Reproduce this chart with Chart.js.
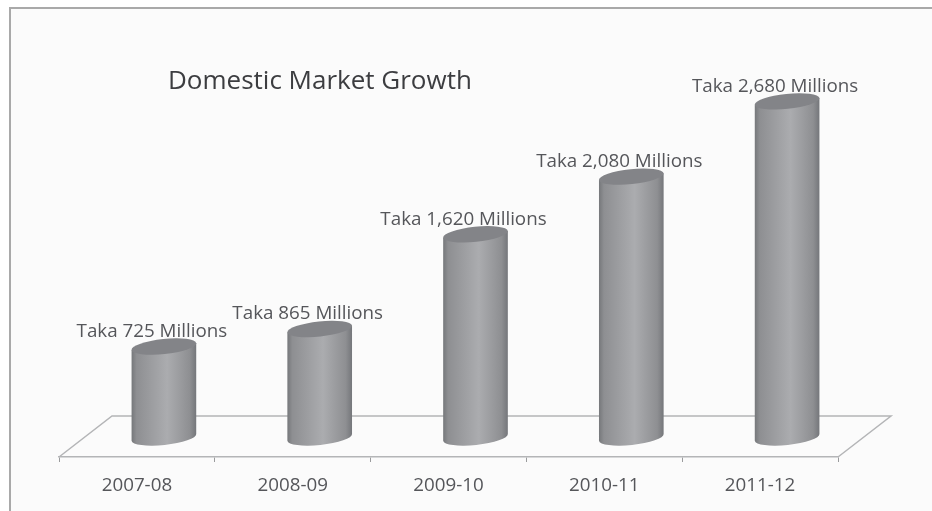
<!DOCTYPE HTML>
<html>
<head>
    <title>Domestic Market Growth</title>
    <meta charset="utf-8" />
    <script src="https://cdn.jsdelivr.net/npm/chart.js@4"></script>
    <style>
        html, body { margin: 0; background: #fff; }
        canvas { display: block; }
    </style>
</head>
<body>
    <canvas id="chartCanvas" width="932" height="511"></canvas>
    <script>
        const years = ["2007-08", "2008-09", "2009-10", "2010-11", "2011-12"];
        const taka_millions = [725, 865, 1620, 2080, 2680];
        const value_labels = ["Taka 725 Millions", "Taka 865 Millions", "Taka 1,620 Millions", "Taka 2,080 Millions", "Taka 2,680 Millions"];
        const title_text = "Domestic Market Growth";

        const font_name = "'Open Sans', sans-serif";
        const line_color = "#b4b5b7";
        const text_color = "#55565a";
        const floor_depth = 53;
        const floor_height = 41;
        const tilt = 6 * Math.PI / 180;
        const cap_ry = 7.5;

        // the cylinder stands halfway into the floor, so it is pushed right of its category
        function cylinder(ctx, el) {
            const x = el.x + floor_depth / 2 + 0.5;
            const rx = el.width / 2;
            const dx = rx * Math.cos(tilt);
            const dy = rx * Math.sin(tilt);

            const shade = ctx.createLinearGradient(x - rx, 0, x + rx, 0);
            shade.addColorStop(0, "#75777a");
            shade.addColorStop(0.08, "#8e8f92");
            shade.addColorStop(0.55, "#abacaf");
            shade.addColorStop(0.9, "#8e8f92");
            shade.addColorStop(1, "#74767a");

            ctx.save();
            ctx.beginPath();
            ctx.moveTo(x - dx, el.y + dy);
            ctx.lineTo(x + dx, el.y - dy);
            ctx.lineTo(x + dx, el.base - dy);
            ctx.ellipse(x, el.base, rx, cap_ry, -tilt, 0, Math.PI);
            ctx.closePath();
            ctx.fillStyle = shade;
            ctx.fill();

            ctx.beginPath();
            ctx.ellipse(x, el.y, rx, cap_ry, -tilt, 0, Math.PI * 2);
            ctx.fillStyle = "#838488";
            ctx.fill();
            ctx.restore();
        }

        const cylinder_plugin = {
            id: "cylinder",
            beforeDraw(chart) {
                const ctx = chart.ctx;
                ctx.save();
                ctx.fillStyle = "#fbfbfb";
                ctx.fillRect(10, 8, chart.width - 10, chart.height - 8);
                ctx.strokeStyle = "#a9a9a9";
                ctx.lineWidth = 2;
                ctx.beginPath();
                ctx.moveTo(10, chart.height);
                ctx.lineTo(10, 8);
                ctx.lineTo(chart.width, 8);
                ctx.stroke();
                ctx.restore();
            },
            beforeDatasetsDraw(chart) {
                const ctx = chart.ctx;
                const area = chart.chartArea;
                ctx.save();
                ctx.strokeStyle = line_color;
                ctx.lineWidth = 1.5;
                ctx.beginPath();
                ctx.moveTo(area.left, area.bottom);
                ctx.lineTo(area.left + floor_depth, area.bottom - floor_height);
                ctx.lineTo(area.right + floor_depth, area.bottom - floor_height);
                ctx.lineTo(area.right, area.bottom);
                ctx.stroke();
                ctx.restore();
            },
            beforeDatasetDraw(chart, args) {
                args.meta.data.forEach(el => cylinder(chart.ctx, el));
                return false;
            },
            afterDatasetsDraw(chart) {
                const ctx = chart.ctx;
                ctx.save();
                ctx.textAlign = "center";
                ctx.textBaseline = "middle";
                ctx.fillStyle = text_color;
                ctx.font = "18.8px " + font_name;
                chart.getDatasetMeta(0).data.forEach((el, i) => {
                    ctx.fillText(value_labels[i], el.x + 15, el.y - 15);
                });
                ctx.fillStyle = "#3c3d40";
                ctx.font = "26px " + font_name;
                ctx.textAlign = "left";
                ctx.fillText(title_text, 168, 82);
                ctx.restore();
            }
        };

        new Chart(document.getElementById("chartCanvas"), {
            type: "bar",
            data: {
                labels: years,
                datasets: [{
                    label: "Domestic Market Growth",
                    data: taka_millions,
                    backgroundColor: "#a0a1a4",
                    barThickness: 65
                }]
            },
            plugins: [cylinder_plugin],
            options: {
                responsive: false,
                animation: false,
                layout: { padding: { left: 59, right: 94, top: 10, bottom: 0 } },
                plugins: {
                    legend: { display: false },
                    tooltip: { enabled: false }
                },
                scales: {
                    y: { display: false, min: -156, max: 3409 },
                    x: {
                        afterFit: scale => { scale.height = 54; },
                        border: { color: line_color, width: 1.5 },
                        grid: { offset: true, drawOnChartArea: false, tickLength: 5, color: "#9a9b9d" },
                        ticks: {
                            color: text_color,
                            font: { family: font_name, size: 18.8 },
                            padding: 12,
                            maxRotation: 0
                        }
                    }
                }
            }
        });
    </script>
</body>
</html>
